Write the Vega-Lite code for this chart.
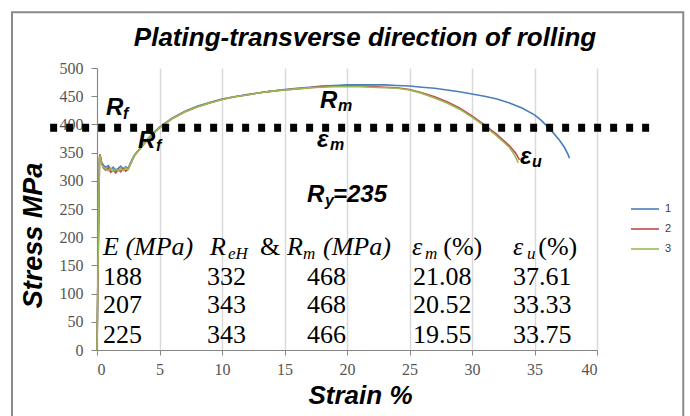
{
  "$schema": "https://vega.github.io/schema/vega-lite/v6.json",
  "width": 500,
  "height": 282,
  "autosize": {"type": "none"},
  "padding": {"left": 97, "top": 68, "right": 93, "bottom": 66},
  "background": "white",
  "config": {"view": {"stroke": null}, "font": "Liberation Sans"},
  "datasets": {
    "curves": [
      {"s": "1", "x": 0, "y": 0}, {"s": "1", "x": 0.1, "y": 175}, {"s": "1", "x": 0.2, "y": 338}, {"s": "1", "x": 0.25, "y": 344}, {"s": "1", "x": 0.35, "y": 333}, {"s": "1", "x": 0.5, "y": 328}, {"s": "1", "x": 0.7, "y": 324}, {"s": "1", "x": 0.9, "y": 327}, {"s": "1", "x": 1.1, "y": 320}, {"s": "1", "x": 1.3, "y": 324}, {"s": "1", "x": 1.5, "y": 318}, {"s": "1", "x": 1.7, "y": 322}, {"s": "1", "x": 1.9, "y": 326}, {"s": "1", "x": 2.1, "y": 320}, {"s": "1", "x": 2.3, "y": 325}, {"s": "1", "x": 2.5, "y": 322}, {"s": "1", "x": 2.7, "y": 333}, {"s": "1", "x": 3.0, "y": 346}, {"s": "1", "x": 3.5, "y": 359}, {"s": "1", "x": 4.0, "y": 373}, {"s": "1", "x": 4.5, "y": 385}, {"s": "1", "x": 5, "y": 395}, {"s": "1", "x": 6, "y": 411}, {"s": "1", "x": 7, "y": 423}, {"s": "1", "x": 8, "y": 432}, {"s": "1", "x": 9, "y": 439}, {"s": "1", "x": 10, "y": 445}, {"s": "1", "x": 11, "y": 449}, {"s": "1", "x": 12, "y": 453}, {"s": "1", "x": 13, "y": 456}, {"s": "1", "x": 14, "y": 459}, {"s": "1", "x": 15, "y": 462}, {"s": "1", "x": 16, "y": 464}, {"s": "1", "x": 17, "y": 466}, {"s": "1", "x": 18, "y": 468}, {"s": "1", "x": 19, "y": 469}, {"s": "1", "x": 20, "y": 470}, {"s": "1", "x": 21, "y": 470}, {"s": "1", "x": 22, "y": 470}, {"s": "1", "x": 23, "y": 470}, {"s": "1", "x": 24, "y": 469}, {"s": "1", "x": 25, "y": 468}, {"s": "1", "x": 26, "y": 466}, {"s": "1", "x": 27, "y": 464}, {"s": "1", "x": 28, "y": 461}, {"s": "1", "x": 29, "y": 458}, {"s": "1", "x": 30, "y": 454}, {"s": "1", "x": 31, "y": 450}, {"s": "1", "x": 32, "y": 445}, {"s": "1", "x": 33, "y": 438}, {"s": "1", "x": 34, "y": 429}, {"s": "1", "x": 35, "y": 417}, {"s": "1", "x": 35.5, "y": 408}, {"s": "1", "x": 36, "y": 397}, {"s": "1", "x": 36.5, "y": 385}, {"s": "1", "x": 37, "y": 372}, {"s": "1", "x": 37.4, "y": 359}, {"s": "1", "x": 37.7, "y": 346}, {"s": "1", "x": 37.8, "y": 340},
      {"s": "2", "x": 0, "y": 0}, {"s": "2", "x": 0.1, "y": 180}, {"s": "2", "x": 0.2, "y": 342}, {"s": "2", "x": 0.25, "y": 347}, {"s": "2", "x": 0.35, "y": 334}, {"s": "2", "x": 0.5, "y": 323}, {"s": "2", "x": 0.7, "y": 319}, {"s": "2", "x": 0.9, "y": 323}, {"s": "2", "x": 1.1, "y": 315}, {"s": "2", "x": 1.3, "y": 319}, {"s": "2", "x": 1.5, "y": 314}, {"s": "2", "x": 1.7, "y": 320}, {"s": "2", "x": 1.9, "y": 316}, {"s": "2", "x": 2.1, "y": 322}, {"s": "2", "x": 2.3, "y": 317}, {"s": "2", "x": 2.5, "y": 321}, {"s": "2", "x": 2.7, "y": 331}, {"s": "2", "x": 3.0, "y": 345}, {"s": "2", "x": 3.5, "y": 358}, {"s": "2", "x": 4.0, "y": 372}, {"s": "2", "x": 4.5, "y": 384}, {"s": "2", "x": 5, "y": 394}, {"s": "2", "x": 6, "y": 410}, {"s": "2", "x": 7, "y": 422}, {"s": "2", "x": 8, "y": 431}, {"s": "2", "x": 9, "y": 438}, {"s": "2", "x": 10, "y": 444}, {"s": "2", "x": 11, "y": 449}, {"s": "2", "x": 12, "y": 452}, {"s": "2", "x": 13, "y": 456}, {"s": "2", "x": 14, "y": 459}, {"s": "2", "x": 15, "y": 461}, {"s": "2", "x": 16, "y": 463}, {"s": "2", "x": 17, "y": 465}, {"s": "2", "x": 18, "y": 467}, {"s": "2", "x": 19, "y": 468}, {"s": "2", "x": 20, "y": 468}, {"s": "2", "x": 21, "y": 468}, {"s": "2", "x": 22, "y": 467}, {"s": "2", "x": 23, "y": 466}, {"s": "2", "x": 24, "y": 465}, {"s": "2", "x": 25, "y": 462}, {"s": "2", "x": 26, "y": 456}, {"s": "2", "x": 27, "y": 449}, {"s": "2", "x": 28, "y": 440}, {"s": "2", "x": 29, "y": 429}, {"s": "2", "x": 30, "y": 415}, {"s": "2", "x": 31, "y": 399}, {"s": "2", "x": 32, "y": 382}, {"s": "2", "x": 33, "y": 362}, {"s": "2", "x": 33.5, "y": 349}, {"s": "2", "x": 33.8, "y": 337},
      {"s": "3", "x": 0, "y": 0}, {"s": "3", "x": 0.05, "y": 90}, {"s": "3", "x": 0.15, "y": 270}, {"s": "3", "x": 0.2, "y": 340}, {"s": "3", "x": 0.25, "y": 345}, {"s": "3", "x": 0.35, "y": 330}, {"s": "3", "x": 0.5, "y": 324}, {"s": "3", "x": 0.7, "y": 321}, {"s": "3", "x": 0.9, "y": 318}, {"s": "3", "x": 1.1, "y": 322}, {"s": "3", "x": 1.3, "y": 317}, {"s": "3", "x": 1.5, "y": 321}, {"s": "3", "x": 1.7, "y": 318}, {"s": "3", "x": 1.9, "y": 322}, {"s": "3", "x": 2.1, "y": 318}, {"s": "3", "x": 2.3, "y": 323}, {"s": "3", "x": 2.5, "y": 320}, {"s": "3", "x": 2.7, "y": 332}, {"s": "3", "x": 3.0, "y": 345}, {"s": "3", "x": 3.5, "y": 358}, {"s": "3", "x": 4.0, "y": 372}, {"s": "3", "x": 4.5, "y": 384}, {"s": "3", "x": 5, "y": 394}, {"s": "3", "x": 6, "y": 410}, {"s": "3", "x": 7, "y": 422}, {"s": "3", "x": 8, "y": 431}, {"s": "3", "x": 9, "y": 438}, {"s": "3", "x": 10, "y": 444}, {"s": "3", "x": 11, "y": 449}, {"s": "3", "x": 12, "y": 452}, {"s": "3", "x": 13, "y": 456}, {"s": "3", "x": 14, "y": 459}, {"s": "3", "x": 15, "y": 461}, {"s": "3", "x": 16, "y": 463}, {"s": "3", "x": 17, "y": 465}, {"s": "3", "x": 18, "y": 466}, {"s": "3", "x": 19, "y": 467}, {"s": "3", "x": 20, "y": 467}, {"s": "3", "x": 21, "y": 467}, {"s": "3", "x": 22, "y": 466}, {"s": "3", "x": 23, "y": 465}, {"s": "3", "x": 24, "y": 464}, {"s": "3", "x": 25, "y": 461}, {"s": "3", "x": 26, "y": 455}, {"s": "3", "x": 27, "y": 447}, {"s": "3", "x": 28, "y": 438}, {"s": "3", "x": 29, "y": 427}, {"s": "3", "x": 30, "y": 413}, {"s": "3", "x": 31, "y": 397}, {"s": "3", "x": 32, "y": 379}, {"s": "3", "x": 33, "y": 359}, {"s": "3", "x": 33.4, "y": 346}, {"s": "3", "x": 33.7, "y": 332}
    ],
    "hgrid": [{"y": 500}, {"y": 450}, {"y": 200}, {"y": 150}, {"y": 50}],
    "dots": [{"x": -3.75, "x2": 44.3, "y": 394}],
    "frame": [{"x": -6.8, "x2": 46.9, "y": 599, "y2": -140}],
    "ttl": [{"x": 21.44, "y": 539, "t": "Plating-transverse direction of rolling"}],
    "big": [
      {"x": 0.72, "y": 416.7, "t": "R"},
      {"x": 3.28, "y": 358, "t": "R"},
      {"x": 17.84, "y": 429, "t": "R"},
      {"x": 17.6, "y": 360, "t": "ε"},
      {"x": 33.84, "y": 330, "t": "ε"},
      {"x": 16.8, "y": 262.4, "t": "R"},
      {"x": 18.88, "y": 262.4, "t": "=235"}
    ],
    "small": [
      {"x": 2.08, "y": 409.6, "t": "f"},
      {"x": 4.72, "y": 353, "t": "f"},
      {"x": 19.28, "y": 424, "t": "m"},
      {"x": 18.64, "y": 354.6, "t": "m"},
      {"x": 34.8, "y": 324.5, "t": "u"},
      {"x": 18.24, "y": 255.3, "t": "y"}
    ],
    "tabi": [
      {"x": 0.48, "y": 168.4, "t": "E (MPa)"},
      {"x": 9.04, "y": 168.4, "t": "R"},
      {"x": 15.2, "y": 168.4, "t": "R"},
      {"x": 18.08, "y": 168.4, "t": "(MPa)"},
      {"x": 25.2, "y": 168.4, "t": "ε"},
      {"x": 33.28, "y": 168.4, "t": "ε"}
    ],
    "tabs": [
      {"x": 10.48, "y": 161.3, "t": "eH"},
      {"x": 16.48, "y": 161.3, "t": "m"},
      {"x": 26.24, "y": 161.3, "t": "m"},
      {"x": 34.4, "y": 161.3, "t": "u"}
    ],
    "tab": [
      {"x": 13.04, "y": 168.4, "t": "&"},
      {"x": 27.7, "y": 168.4, "t": "(%)"},
      {"x": 35.3, "y": 168.4, "t": "(%)"},
      {"x": 0.48, "y": 115.2, "t": "188"}, {"x": 8.8, "y": 115.2, "t": "332"}, {"x": 16.8, "y": 115.2, "t": "468"}, {"x": 25.28, "y": 115.2, "t": "21.08"}, {"x": 33.28, "y": 115.2, "t": "37.61"},
      {"x": 0.48, "y": 65.6, "t": "207"}, {"x": 8.8, "y": 65.6, "t": "343"}, {"x": 16.8, "y": 65.6, "t": "468"}, {"x": 25.28, "y": 65.6, "t": "20.52"}, {"x": 33.28, "y": 65.6, "t": "33.33"},
      {"x": 0.48, "y": 12.4, "t": "225"}, {"x": 8.8, "y": 12.4, "t": "343"}, {"x": 16.8, "y": 12.4, "t": "466"}, {"x": 25.28, "y": 12.4, "t": "19.55"}, {"x": 33.28, "y": 12.4, "t": "33.75"}
    ]
  },
  "encoding": {
    "x": {
      "field": "x", "type": "quantitative",
      "scale": {"domain": [0, 40], "nice": false, "zero": false},
      "axis": {
        "title": "Strain %", "values": [0, 5, 10, 15, 20, 25, 30, 35, 40],
        "grid": true, "gridColor": "#d9d9d9", "gridWidth": 1.5,
        "domainColor": "#868686", "tickColor": "#868686", "tickSize": 5,
        "labelFont": "Liberation Serif", "labelFontSize": 16, "labelColor": "#555555", "labelPadding": 6,
        "titleFont": "Liberation Sans", "titleFontSize": 26, "titleFontWeight": "bold", "titleFontStyle": "italic", "titleColor": "#000000",
        "titleX": 263, "titleY": 45, "titleBaseline": "middle", "titleAlign": "center"
      }
    },
    "y": {
      "field": "y", "type": "quantitative",
      "scale": {"domain": [0, 500], "nice": false},
      "axis": {
        "title": "Stress MPa", "values": [0, 50, 100, 150, 200, 250, 300, 350, 400, 450, 500],
        "grid": false, "domainColor": "#868686", "tickColor": "#868686", "tickSize": 6,
        "labelFont": "Liberation Serif", "labelFontSize": 16, "labelColor": "#555555", "labelPadding": 8,
        "titleFont": "Liberation Sans", "titleFontSize": 27, "titleFontWeight": "bold", "titleFontStyle": "italic", "titleColor": "#000000",
        "titleX": -64, "titleY": 167, "titleAngle": 270, "titleBaseline": "middle", "titleAlign": "center"
      }
    }
  },
  "layer": [
    {
      "data": {"name": "frame"},
      "mark": {"type": "rect", "fill": "transparent", "stroke": "#8a8a8a", "strokeWidth": 2},
      "encoding": {"x2": {"field": "x2"}, "y2": {"field": "y2"}}
    },
    {
      "data": {"name": "ttl"},
      "mark": {"type": "text", "font": "Liberation Sans", "fontSize": 26, "fontWeight": "bold", "fontStyle": "italic", "align": "center", "baseline": "alphabetic", "color": "#000000"},
      "encoding": {"text": {"field": "t"}}
    },
    {
      "data": {"name": "hgrid"},
      "mark": {"type": "rule", "color": "#8c8c8c", "strokeWidth": 1},
      "encoding": {"x": {"datum": 0}, "x2": {"datum": 40}}
    },
    {
      "data": {"name": "curves"},
      "mark": {"type": "line", "strokeWidth": 1.6},
      "encoding": {
        "color": {
          "field": "s", "type": "nominal",
          "scale": {"domain": ["1", "2", "3"], "range": ["#4A7EBB", "#BE4B48", "#98B954"]},
          "legend": {
            "title": null, "orient": "none", "legendX": 533, "legendY": 126,
            "symbolType": "stroke", "symbolSize": 784, "symbolStrokeWidth": 1.6,
            "labelFont": "Liberation Sans", "labelFontSize": 11, "labelColor": "#404040",
            "labelOffset": 5, "rowPadding": 0, "padding": 0
          }
        },
        "order": {"field": "x", "type": "quantitative"}
      }
    },
    {
      "data": {"name": "dots"},
      "mark": {"type": "rule", "color": "#000000", "strokeWidth": 8, "strokeDash": [7, 9], "strokeCap": "butt"},
      "encoding": {"x2": {"field": "x2"}}
    },
    {
      "data": {"name": "big"},
      "mark": {"type": "text", "font": "Liberation Sans", "fontSize": 24, "fontWeight": "bold", "fontStyle": "italic", "align": "left", "baseline": "alphabetic", "color": "#000000"},
      "encoding": {"text": {"field": "t"}}
    },
    {
      "data": {"name": "small"},
      "mark": {"type": "text", "font": "Liberation Sans", "fontSize": 16, "fontWeight": "bold", "fontStyle": "italic", "align": "left", "baseline": "alphabetic", "color": "#000000"},
      "encoding": {"text": {"field": "t"}}
    },
    {
      "data": {"name": "tabi"},
      "mark": {"type": "text", "font": "Liberation Serif", "fontSize": 26, "fontStyle": "italic", "align": "left", "baseline": "alphabetic", "color": "#000000"},
      "encoding": {"text": {"field": "t"}}
    },
    {
      "data": {"name": "tabs"},
      "mark": {"type": "text", "font": "Liberation Serif", "fontSize": 17, "fontStyle": "italic", "align": "left", "baseline": "alphabetic", "color": "#000000"},
      "encoding": {"text": {"field": "t"}}
    },
    {
      "data": {"name": "tab"},
      "mark": {"type": "text", "font": "Liberation Serif", "fontSize": 26, "align": "left", "baseline": "alphabetic", "color": "#000000"},
      "encoding": {"text": {"field": "t"}}
    }
  ]
}
